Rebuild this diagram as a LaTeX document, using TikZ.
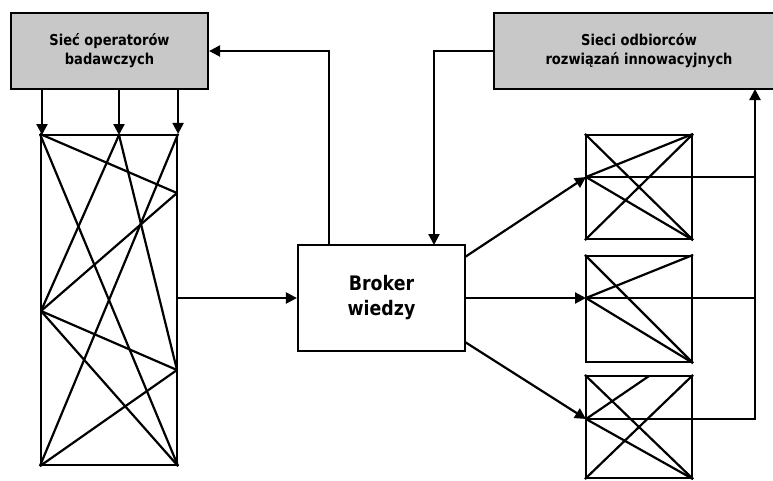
\documentclass[tikz,border=0pt]{standalone}
\usepackage{fontspec}
\setmainfont{DejaVu Sans}[FakeStretch=0.87]
\usetikzlibrary{arrows.meta}
\definecolor{boxgray}{RGB}{200,200,200}
\tikzset{
  ln/.style={line width=2.2pt},
  arr/.style={ln,-{Triangle[length=11pt,width=11pt]}},
  graybox/.style={draw,ln,fill=boxgray,rectangle,align=center,inner sep=0pt,
    font=\fontsize{15}{19}\selectfont\bfseries},
  plainbox/.style={draw,ln,rectangle,inner sep=0pt},
}
\begin{document}
\begin{tikzpicture}[x=1pt,y=-1pt]
\useasboundingbox (0,0) rectangle (773,480);
\clip (0,0) rectangle (773,480);
% gray boxes
\node[graybox,minimum width=197pt,minimum height=76pt] (G1) at (109.5,51) {Sieć operatorów\\badawczych};
\node[graybox,minimum width=290pt,minimum height=76pt] (G2) at (639,51) {Sieci odbiorców\\rozwiązań innowacyjnych};
% tall box
\node[plainbox,minimum width=136pt,minimum height=330pt] (T) at (109,300) {};
\coordinate (tm) at (119,135);
\coordinate (r1) at (177,193);
\coordinate (l1) at (41,311);
\coordinate (r2) at (177,370);
\draw[ln] (T.north west) -- (T.south east);
\draw[ln] (T.north west) -- (r1);
\draw[ln] (tm) -- (l1);
\draw[ln] (tm) -- (r2);
\draw[ln] (T.north east) -- (T.south west);
\draw[ln] (r1) -- (l1);
\draw[ln] (l1) -- (r2);
\draw[ln] (l1) -- (T.south east);
\draw[ln] (r2) -- (T.south west);
% arrows from G1 down
\draw[arr] (G1.south -| 42,0) -- (42,135);
\draw[arr] (G1.south -| tm) -- (tm);
\draw[arr] (G1.south -| T.north east) -- (T.north east);
% broker
\node[plainbox,minimum width=167pt,minimum height=106pt,align=center,
  font=\fontsize{20}{25}\selectfont\bfseries] (B) at (381.5,298) {Broker\\wiedzy};
\draw[arr] (B.west -| T.east) -- (B.west);
\coordinate (bu) at (329,245);
\coordinate (bd) at (434,245);
\draw[arr] (bu) |- (G1.east);
\draw[arr] (G2.west) -| (bd);
% small boxes
\node[plainbox,minimum width=106pt,minimum height=104pt] (S1) at (639,187) {};
\node[plainbox,minimum width=106pt,minimum height=106pt] (S2) at (639,309) {};
\node[plainbox,minimum width=106pt,minimum height=102pt] (S3) at (639,427) {};
\coordinate (p1) at (586,177);
\coordinate (p2) at (586,298);
\coordinate (p3) at (586,419);
\coordinate (s3t) at (649,376);
\draw[ln] (S1.north west) -- (S1.south east);
\draw[ln] (S1.south west) -- (S1.north east);
\draw[ln] (p1) -- (S1.north east);
\draw[ln] (p1) -- (S1.south east);
\draw[ln] (S2.north west) -- (S2.south east);
\draw[ln] (p2) -- (S2.north east);
\draw[ln] (p2) -- (S2.south east);
\draw[ln] (S3.north west) -- (S3.south east);
\draw[ln] (s3t) -- (p3);
\draw[ln] (S3.north east) -- (S3.south west);
\draw[ln] (p3) -- (S3.south east);
% broker to small boxes
\coordinate (b1) at (465,257);
\coordinate (b3) at (465,342);
\draw[arr] (b1) -- (p1);
\draw[arr] (B.east |- p2) -- (p2);
\draw[arr] (b3) -- (p3);
% return line
\coordinate (rx) at (755,89);
\draw[ln] (p1) -- (p1 -| rx);
\draw[ln] (p2) -- (p2 -| rx);
\draw[arr] (p3) -| (rx);
\end{tikzpicture}
\end{document}
